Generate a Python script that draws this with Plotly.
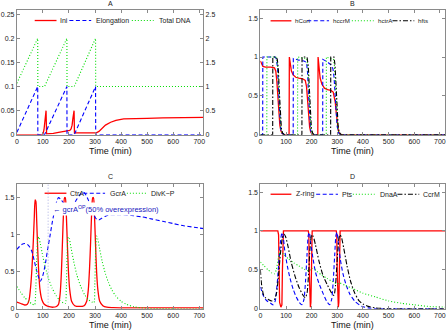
import plotly.graph_objects as go

# ---------------- DATA ----------------
# Panel A
t_ini = [0, 95, 100, 104, 107, 110, 112, 114, 125, 140, 160, 180, 195, 203, 208, 212, 215, 218, 219.5, 221,
         235, 260, 290, 305, 315, 325, 340, 360, 380, 410, 450, 500, 560, 620, 720]
ini = [0, 0, 0.002, 0.01, 0.025, 0.042, 0.05, 0.002, 0.002, 0.003, 0.005, 0.007, 0.008, 0.009, 0.012, 0.02,
       0.034, 0.048, 0.05, 0.004, 0.004, 0.005, 0.005, 0.004, 0.007, 0.013, 0.02, 0.026, 0.03, 0.033, 0.034,
       0.034, 0.035, 0.035, 0.036]
t_elong = [0, 80, 80.5, 106, 192, 192.5, 220, 302, 302.5, 720]
elong = [0.05, 1.0, 0, 0, 1.0, 0, 0, 1.0, 0, 0]
t_dna = [0, 80, 80.5, 106, 192, 192.5, 220, 302, 302.5, 720]
total_dna = [1.07, 2.0, 1.0, 1.0, 2.0, 1.0, 1.0, 2.0, 1.0, 1.0]

# Panel B
t_hcori = [0, 4, 10, 20, 40, 55, 60, 64, 68, 72, 76, 80, 85, 92, 112, 113, 116, 121, 128, 138, 150, 165, 175,
           180, 184, 188, 192, 196, 201, 208, 224, 225, 228, 233, 240, 250, 262, 275, 284, 288, 292, 296, 300,
           304, 309, 316, 720]
hcori = [0.95, 0.91, 0.88, 0.87, 0.87, 0.86, 0.82, 0.7, 0.5, 0.28, 0.12, 0.05, 0.015, 0, 0, 1.0, 0.9, 0.82,
         0.77, 0.74, 0.73, 0.72, 0.7, 0.62, 0.45, 0.25, 0.1, 0.04, 0.01, 0, 0, 1.0, 0.85, 0.73, 0.65, 0.6, 0.58,
         0.57, 0.55, 0.5, 0.42, 0.28, 0.13, 0.05, 0.015, 0, 0]
t_hccrm = [0, 9, 9.5, 58, 63, 67, 71, 75, 79, 84, 92, 128, 128.5, 150, 170, 180, 184, 188, 192, 196, 201, 208,
           243, 243.5, 260, 275, 283, 287, 291, 295, 299, 303, 308, 315, 720]
hccrm = [0, 0, 1.0, 1.0, 0.97, 0.85, 0.55, 0.25, 0.08, 0.02, 0, 0, 0.98, 0.96, 0.95, 0.93, 0.8, 0.5, 0.2, 0.06,
         0.01, 0, 0, 0.97, 0.94, 0.9, 0.85, 0.75, 0.55, 0.3, 0.12, 0.04, 0.01, 0, 0]
t_hctra = [0, 25, 25.5, 60, 64, 68, 72, 76, 80, 85, 92, 145, 145.5, 180, 185, 189, 193, 197, 202, 208, 257,
           257.5, 285, 289, 293, 297, 301, 305, 310, 316, 720]
hctra = [0, 0, 1.0, 1.0, 0.97, 0.85, 0.55, 0.25, 0.08, 0.02, 0, 0, 1.0, 0.98, 0.88, 0.6, 0.28, 0.08, 0.02, 0,
         0, 1.0, 0.97, 0.88, 0.65, 0.35, 0.12, 0.04, 0.01, 0, 0]
t_hfts = [0, 48, 48.5, 62, 66, 70, 74, 78, 82, 87, 94, 162, 162.5, 182, 187, 191, 195, 199, 204, 210, 274,
          274.5, 287, 291, 295, 299, 303, 307, 312, 318, 720]
hfts = [0, 0, 1.0, 1.0, 0.97, 0.85, 0.55, 0.25, 0.08, 0.02, 0, 0, 1.0, 1.0, 0.88, 0.6, 0.28, 0.08, 0.02, 0,
        0, 1.0, 1.0, 0.9, 0.65, 0.35, 0.12, 0.04, 0.01, 0, 0]

# Panel C
t_ctra = [0, 15, 30, 40, 47, 53, 58, 63, 67, 70, 73, 76, 80, 84, 89, 96, 105, 120, 140, 152, 160, 166, 171,
          175, 179, 183, 186, 190, 194, 198, 203, 210, 222, 240, 258, 268, 274, 279, 283, 287, 291, 294, 298,
          302, 306, 311, 318, 330, 345, 370, 420, 500, 720]
ctra = [0.09, 0.07, 0.05, 0.06, 0.12, 0.3, 0.55, 0.9, 1.25, 1.47, 1.45, 1.2, 0.8, 0.48, 0.25, 0.12, 0.06,
        0.03, 0.02, 0.03, 0.06, 0.2, 0.5, 0.9, 1.3, 1.5, 1.5, 1.25, 0.85, 0.5, 0.25, 0.1, 0.04, 0.03, 0.04,
        0.1, 0.25, 0.55, 0.9, 1.3, 1.5, 1.5, 1.25, 0.85, 0.5, 0.25, 0.1, 0.04, 0.02, 0.015, 0.01, 0.01, 0.01]
t_gcra = [0, 10, 20, 30, 40, 50, 58, 66, 74, 82, 89, 95, 102, 110, 118, 127, 136, 145, 153, 160, 170, 180,
          190, 200, 210, 220, 230, 240, 250, 258, 266, 274, 282, 290, 298, 306, 315, 325, 340, 360, 380, 400,
          440, 480, 520, 560, 600, 640, 680, 720]
gcra = [0.8, 0.84, 0.87, 0.88, 0.87, 0.83, 0.77, 0.66, 0.54, 0.44, 0.37, 0.4, 0.48, 0.62, 0.8, 0.98, 1.17,
        1.33, 1.45, 1.5, 1.47, 1.42, 1.38, 1.36, 1.38, 1.42, 1.48, 1.53, 1.57, 1.57, 1.53, 1.47, 1.4, 1.32,
        1.25, 1.21, 1.2, 1.22, 1.25, 1.27, 1.27, 1.27, 1.26, 1.24, 1.21, 1.18, 1.15, 1.12, 1.1, 1.08]
t_divk = [0, 15, 30, 45, 60, 68, 72, 76, 80, 84, 90, 100, 110, 122, 135, 150, 165, 178, 186, 190, 193, 197,
          201, 208, 218, 230, 245, 260, 275, 288, 296, 299, 302, 306, 310, 318, 328, 340, 352, 365, 380, 400,
          420, 450, 500, 720]
divk = [0.3, 0.22, 0.15, 0.1, 0.06, 0.05, 0.2, 0.65, 0.93, 0.97, 0.88, 0.7, 0.55, 0.4, 0.28, 0.18, 0.11, 0.08,
        0.07, 0.3, 0.75, 0.97, 0.95, 0.82, 0.64, 0.46, 0.3, 0.19, 0.12, 0.09, 0.08, 0.3, 0.75, 0.98, 0.95,
        0.8, 0.63, 0.47, 0.35, 0.25, 0.17, 0.1, 0.06, 0.025, 0.005, 0]
gcra_op_time = 120

# Panel D
t_zring = [0, 68, 71, 73, 75, 80, 84, 86, 88, 90, 187, 189, 190.5, 192, 195, 197, 198.5, 200, 202, 296, 298,
           299.5, 301, 304, 306, 307.5, 309, 311, 720]
zring = [1, 1, 0.95, 0.5, 0.08, 0.02, 0.05, 0.5, 0.95, 1, 1, 0.95, 0.5, 0.08, 0.02, 0.08, 0.5, 0.95, 1, 1,
         0.95, 0.5, 0.08, 0.02, 0.08, 0.5, 0.95, 1, 1]
t_pts = [0, 10, 20, 30, 40, 50, 58, 65, 72, 78, 84, 88, 95, 105, 115, 128, 140, 152, 162, 170, 176, 182, 187,
         191, 196, 205, 215, 228, 244, 258, 270, 278, 284, 290, 295, 299, 304, 312, 322, 335, 350, 370, 395,
         420, 450, 500, 720]
pts = [0.28, 0.18, 0.12, 0.09, 0.07, 0.05, 0.1, 0.3, 0.6, 0.85, 0.98, 0.95, 0.75, 0.55, 0.4, 0.25, 0.15, 0.08,
       0.05, 0.12, 0.35, 0.7, 0.95, 0.98, 0.85, 0.65, 0.47, 0.33, 0.2, 0.1, 0.05, 0.12, 0.35, 0.7, 0.95, 0.98,
       0.85, 0.63, 0.45, 0.3, 0.18, 0.09, 0.03, 0.01, 0, 0, 0]
t_dnaa = [0, 15, 30, 45, 55, 62, 70, 78, 90, 110, 130, 150, 170, 185, 195, 205, 220, 240, 260, 280, 300, 310,
          330, 360, 400, 450, 500, 550, 600, 650, 720]
dnaa = [0.6, 0.55, 0.5, 0.46, 0.45, 0.5, 0.65, 0.74, 0.7, 0.64, 0.59, 0.55, 0.51, 0.49, 0.5, 0.52, 0.48, 0.43,
        0.39, 0.35, 0.32, 0.33, 0.3, 0.26, 0.2, 0.15, 0.1, 0.07, 0.05, 0.03, 0.02]
t_ccrm = [0, 5, 12, 20, 30, 45, 55, 63, 70, 78, 85, 92, 98, 108, 120, 135, 150, 165, 175, 182, 188, 194, 200,
          206, 215, 228, 245, 262, 278, 287, 293, 299, 305, 310, 316, 325, 338, 352, 368, 385, 400, 420, 450,
          500, 720]
ccrm = [0.5, 0.3, 0.18, 0.14, 0.12, 0.1, 0.12, 0.2, 0.4, 0.7, 0.9, 0.96, 0.93, 0.8, 0.6, 0.42, 0.28, 0.18,
        0.14, 0.2, 0.45, 0.8, 0.95, 0.93, 0.82, 0.62, 0.42, 0.3, 0.2, 0.17, 0.3, 0.6, 0.88, 0.95, 0.92, 0.78,
        0.55, 0.35, 0.2, 0.1, 0.06, 0.03, 0.01, 0, 0]

x_ticks = [0, 100, 200, 300, 400, 500, 600, 700]

# ---------------- STYLE ----------------
W, H = 448, 333
FONT = "Liberation Sans"
RED, BLUE, GREEN, BLACK = "#ff0000", "#0000ff", "#00dd00", "#000000"
DASH = "4px,2.5px"
DOT = "1px,2px"
DASHDOT = "5px,2px,1.5px,2px"

fig = go.Figure()


def add(x, y, color, dash, width, xa, ya, shape="linear"):
    fig.add_trace(go.Scatter(x=x, y=y, mode="lines",
                             line=dict(color=color, dash=dash, width=width, shape=shape,
                                       smoothing=0.6 if shape == "spline" else None),
                             xaxis=xa, yaxis=ya, showlegend=False, hoverinfo="skip"))


# A
add(t_ini, ini, RED, "solid", 1.3, "x", "y")
add(t_elong, elong, BLUE, DASH, 1.1, "x", "y5")
add(t_dna, total_dna, GREEN, DOT, 1.1, "x", "y5")
# B
add(t_hcori, hcori, RED, "solid", 1.3, "x2", "y2")
add(t_hccrm, hccrm, BLUE, DASH, 1.1, "x2", "y2")
add(t_hctra, hctra, GREEN, DOT, 1.1, "x2", "y2")
add(t_hfts, hfts, BLACK, DASHDOT, 1.1, "x2", "y2")
# C
add(t_ctra, ctra, RED, "solid", 1.3, "x3", "y3", "spline")
add(t_gcra, gcra, BLUE, DASH, 1.1, "x3", "y3", "spline")
add(t_divk, divk, GREEN, DOT, 1.1, "x3", "y3", "spline")
# D
add(t_zring, zring, RED, "solid", 1.3, "x4", "y4")
add(t_pts, pts, BLUE, DASH, 1.1, "x4", "y4", "spline")
add(t_dnaa, dnaa, GREEN, DOT, 1.1, "x4", "y4", "spline")
add(t_ccrm, ccrm, BLACK, DASHDOT, 1.1, "x4", "y4", "spline")


def px_x(p):
    return p / W


def px_y(p):
    return 1 - p / H


def ax(**kw):
    d = dict(showline=True, linecolor="#8a8a8a", linewidth=1, mirror="ticks", ticks="inside", ticklen=3,
             tickcolor="#8a8a8a", tickfont=dict(size=7, color="#222222", family=FONT), showgrid=False,
             zeroline=False, fixedrange=True)
    d.update(kw)
    return d


xl = [px_x(15), px_x(203)]
xr = [px_x(260.7), px_x(447)]
yt = [px_y(136), px_y(10.5)]
yb = [px_y(311.5), px_y(186)]

fig.update_layout(
    width=W, height=H, margin=dict(l=0, r=0, t=0, b=0),
    paper_bgcolor="white", plot_bgcolor="white",
    font=dict(family=FONT, size=7, color="#222222"),
    xaxis=ax(domain=xl, range=[0, 715], anchor="y", tickvals=x_ticks),
    yaxis=ax(domain=yt, range=[0, 0.258], anchor="x", mirror=False,
             tickvals=[0, 0.05, 0.1, 0.15, 0.2, 0.25], ticktext=["0", "0.05", "0.1", "0.15", "0.2", "0.25"]),
    yaxis5=ax(range=[0, 2.58], overlaying="y", side="right", anchor="x", mirror=False,
              tickvals=[0, 0.5, 1, 1.5, 2, 2.5], ticktext=["0", "0.5", "1", "1.5", "2", "2.5"]),
    xaxis2=ax(domain=xr, range=[0, 720], anchor="y2", tickvals=x_ticks),
    yaxis2=ax(domain=yt, range=[0, 1.6], anchor="x2", tickvals=[0, 0.5, 1, 1.5],
              ticktext=["0", "0.5", "1", "1.5"]),
    xaxis3=ax(domain=xl, range=[0, 715], anchor="y3", tickvals=x_ticks),
    yaxis3=ax(domain=yb, range=[0, 1.68], anchor="x3", tickvals=[0, 0.5, 1, 1.5],
              ticktext=["0", "0.5", "1", "1.5"]),
    xaxis4=ax(domain=xr, range=[0, 720], anchor="y4", tickvals=x_ticks),
    yaxis4=ax(domain=yb, range=[0, 1.6], anchor="x4", tickvals=[0, 0.5, 1, 1.5],
              ticktext=["0", "0.5", "1", "1.5"]),
)

shapes = []
annotations = []

# panel titles and x-axis titles
for label, cx, cy in [("A", 109, 4), ("B", 354, 4), ("C", 109, 178), ("D", 354, 178)]:
    annotations.append(dict(text=label, x=px_x(cx), y=px_y(cy), xref="paper", yref="paper",
                            showarrow=False, font=dict(size=7, color="#222222", family=FONT),
                            xanchor="center", yanchor="middle"))
for cx, cy in [(109, 152.5), (354, 152.5), (109, 328), (354, 328)]:
    annotations.append(dict(text="Time (min)", x=px_x(cx), y=px_y(cy), xref="paper", yref="paper",
                            showarrow=False, font=dict(size=9, color="#111111", family=FONT),
                            xanchor="center", yanchor="middle"))

# manual legends: (name, colour, dash, line x0, line x1, text x) in px, per row y
legends = [
    (20.7, 7, [("Ini", RED, "solid", 33, 55, 57), ("Elongation", BLUE, DASH, 68, 90, 93),
               ("Total DNA", GREEN, DOT, 131, 153, 156)]),
    (21, 6.2, [("hCori", RED, "solid", 271, 292, 294), ("hccrM", BLUE, DASH, 308, 330, 332),
               ("hctrA", GREEN, DOT, 353, 375, 377), ("hfts", BLACK, DASHDOT, 394, 416, 418)]),
    (195, 7, [("CtrA", RED, "solid", 43, 65, 67), ("GcrA", BLUE, DASH, 82, 104, 107),
              ("DivK~P", GREEN, DOT, 126, 146, 148)]),
    (196, 7, [("Z-ring", RED, "solid", 271, 292, 295), ("Pts", BLUE, DASH, 317, 339, 341),
              ("DnaA", GREEN, DOT, 354, 376, 379), ("CcrM", BLACK, DASHDOT, 399, 421, 423)]),
]
for ly, fs, items in legends:
    for name, col, dsh, x0, x1, tx in items:
        shapes.append(dict(type="line", xref="paper", yref="paper", x0=px_x(x0), x1=px_x(x1),
                           y0=px_y(ly), y1=px_y(ly),
                           line=dict(color=col, width=1.3 if dsh == "solid" else 1.1, dash=dsh)))
        annotations.append(dict(text=name, x=px_x(tx), y=px_y(ly), xref="paper", yref="paper",
                                showarrow=False, xanchor="left", yanchor="middle",
                                font=dict(size=fs, color="#222222", family=FONT)))

# vertical marker in C
shapes.append(dict(type="line", xref="x3", yref="y3 domain", x0=gcra_op_time, x1=gcra_op_time, y0=0, y1=1,
                   line=dict(color="#a9aee0", width=1, dash=DOT)))
annotations.append(dict(text="\u2190 gcrA<sup>OP</sup>(50% overexpression)", x=gcra_op_time, y=1.35,
                        xref="x3", yref="y3", showarrow=False, xanchor="left", yanchor="middle", xshift=3,
                        bgcolor="white", borderpad=1,
                        font=dict(size=7.5, color="#2020c0", family=FONT)))

fig.update_layout(shapes=shapes, annotations=annotations)
fig.write_html("out.html", config={"displayModeBar": False},
               post_script="document.body.style.margin='0px';")
